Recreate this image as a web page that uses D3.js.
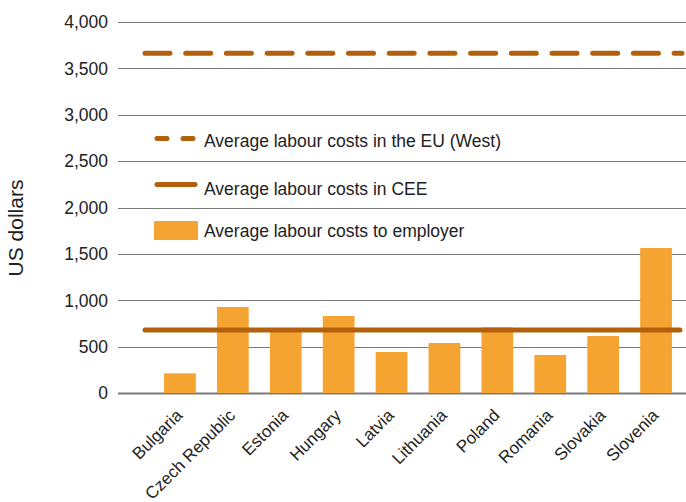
<!DOCTYPE html>
<html>
<head>
<meta charset="utf-8">
<script src="https://cdn.jsdelivr.net/npm/d3@7"></script>
<style>
  body { margin: 0; background: #fff; }
  text { font-family: "Liberation Sans", Arial, sans-serif; fill: #222; }
</style>
</head>
<body>
<div id="chart"></div>
<script>
const countries = ["Bulgaria", "Czech Republic", "Estonia", "Hungary", "Latvia",
  "Lithuania", "Poland", "Romania", "Slovakia", "Slovenia"];
const employerCosts = [212, 927, 670, 830, 442, 539, 708, 410, 615, 1563];
const ceeAverage = [680];
const westAverage = [3662];
const yTicks = [0, 500, 1000, 1500, 2000, 2500, 3000, 3500, 4000];
const legendLabels = ["Average labour costs in the EU (West)", "Average labour costs in CEE", "Average labour costs to employer"];

const width = 686, height = 502;
const barColor = "#f5a331", lineColor = "#b3600c";

const svg = d3.select("#chart").append("svg")
  .attr("width", width)
  .attr("height", height);

const x = d3.scaleBand()
  .domain(countries)
  .range([153.5, 682.5])
  .paddingInner(0.4)
  .paddingOuter(0.2);
const y = d3.scaleLinear()
  .domain([0, 4000])
  .range([393, 22]);

// gridlines
svg.append("g")
  .selectAll("line")
  .data(yTicks)
  .enter().append("line")
  .attr("x1", 118)
  .attr("x2", width)
  .attr("y1", d => Math.round(y(d)) + 0.5)
  .attr("y2", d => Math.round(y(d)) + 0.5)
  .attr("stroke", "#7a7a7a")
  .attr("stroke-width", d => d === 0 ? 2 : 1);

// y tick labels
svg.append("g")
  .selectAll("text")
  .data(yTicks)
  .enter().append("text")
  .attr("x", 108)
  .attr("y", d => y(d))
  .attr("dy", "0.36em")
  .attr("text-anchor", "end")
  .attr("font-size", "17.5px")
  .text(d3.format(","));

// y title
svg.append("text")
  .attr("transform", "translate(23,228) rotate(-90)")
  .attr("text-anchor", "middle")
  .attr("font-size", "21px")
  .text("US dollars");

// bars
svg.selectAll(".bar")
  .data(countries)
  .enter().append("rect")
  .attr("class", "bar")
  .attr("x", d => x(d))
  .attr("width", x.bandwidth())
  .attr("y", (d, i) => y(employerCosts[i]))
  .attr("height", (d, i) => y(0) - y(employerCosts[i]))
  .attr("fill", barColor);

// average lines
svg.append("line")
  .attr("x1", 145).attr("x2", 680)
  .attr("y1", y(ceeAverage[0])).attr("y2", y(ceeAverage[0]))
  .attr("stroke", lineColor)
  .attr("stroke-width", 5)
  .attr("stroke-linecap", "round");

svg.append("line")
  .attr("x1", 145).attr("x2", 682)
  .attr("y1", y(westAverage[0])).attr("y2", y(westAverage[0]))
  .attr("stroke", lineColor)
  .attr("stroke-width", 5)
  .attr("stroke-linecap", "round")
  .attr("stroke-dasharray", "25,15.7");

// category labels
svg.append("g")
  .selectAll("text")
  .data(countries)
  .enter().append("text")
  .attr("transform", d => `translate(${x(d) + x.bandwidth() / 2 - 5},${408}) rotate(-45)`)
  .attr("text-anchor", "end")
  .attr("dy", "0.7em")
  .attr("font-size", "17px")
  .text(d => d);

// legend
const legend = svg.append("g");
legend.append("line")
  .attr("x1", 157).attr("x2", 193)
  .attr("y1", 138.5).attr("y2", 138.5)
  .attr("stroke", lineColor)
  .attr("stroke-width", 5)
  .attr("stroke-linecap", "round")
  .attr("stroke-dasharray", "10,16");
legend.append("line")
  .attr("x1", 157).attr("x2", 195)
  .attr("y1", 184.5).attr("y2", 184.5)
  .attr("stroke", lineColor)
  .attr("stroke-width", 5)
  .attr("stroke-linecap", "round");
legend.append("rect")
  .attr("x", 154).attr("y", 221)
  .attr("width", 44).attr("height", 19)
  .attr("fill", barColor);
legend.selectAll(".lt")
  .data(legendLabels)
  .enter().append("text")
  .attr("class", "lt")
  .attr("x", 204)
  .attr("y", (d, i) => [146.5, 194.5, 237][i])
  .attr("font-size", "17.5px")
  .text(d => d);
</script>
</body>
</html>
